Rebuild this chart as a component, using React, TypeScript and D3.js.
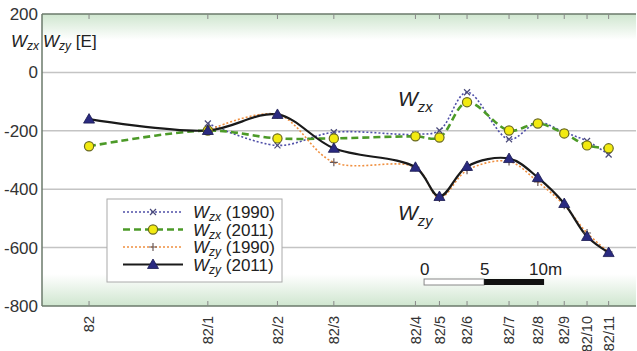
import React from 'react';
import * as d3 from 'd3';

// station labels along the profile and their distance in metres
const categories = ['82', '82/1', '82/2', '82/3', '82/4', '82/5', '82/6', '82/7', '82/8', '82/9', '82/10', '82/11'];
const distances = [0, 9.9, 15.7, 20.4, 27.2, 29.2, 31.5, 35, 37.4, 39.6, 41.5, 43.3];

const wzx1990 = [null, -175, -250, -205, -212, -199, -68, -229, -172, -205, -235, -281];
const wzx2011 = [-253, -199, -226, -226, -219, -223, -102, -199, -175, -209, -250, -260];
const wzy1990 = [null, -199, -144, -308, -325, -430, -335, -305, -375, -455, -550, -615];
const wzy2011 = [-160, -199, -144, -260, -325, -425, -322, -295, -360, -449, -562, -617];

const yTicks = [200, 0, -200, -400, -600, -800];
const gridTicks = [0, -200, -400, -600];
const scaleBarTicks = [0, 5, 10];

const W = 637, H = 351;
const left = 42, right = 636, top = 14, bottom = 306;
const font = '"Liberation Sans", Arial, sans-serif';

const x = d3.scaleLinear().domain([-3.92, 45.58]).range([left, right]);
const y = d3.scaleLinear().domain([-800, 200]).range([bottom, top]);

type Pt = { d: number; v: number };
const pts = (vals: (number | null)[]): Pt[] =>
  vals.map((v, i) => (v === null ? null : { d: distances[i], v })).filter((p): p is Pt => p !== null);

const line = d3.line<Pt>().x(p => x(p.d)).y(p => y(p.v)).curve(d3.curveCatmullRom.alpha(0.5));

const Cross = ({ cx, cy }: { cx: number; cy: number }) => (
  <path d={`M${cx - 3},${cy - 3}L${cx + 3},${cy + 3}M${cx - 3},${cy + 3}L${cx + 3},${cy - 3}`} stroke="#4a4a7a" strokeWidth={1.2} />
);
const Plus = ({ cx, cy }: { cx: number; cy: number }) => (
  <path d={`M${cx - 4},${cy}L${cx + 4},${cy}M${cx},${cy - 4}L${cx},${cy + 4}`} stroke="#6a5a5a" strokeWidth={1.2} />
);
const Circle = ({ cx, cy }: { cx: number; cy: number }) => (
  <circle cx={cx} cy={cy} r={4.6} fill="#f2ea10" stroke="#6a6a20" strokeWidth={1.2} />
);
const Tri = ({ cx, cy }: { cx: number; cy: number }) => (
  <path d={`M${cx},${cy - 5.5}L${cx + 5.5},${cy + 4}L${cx - 5.5},${cy + 4}Z`} fill="#2a2a80" stroke="#1a1a50" strokeWidth={0.8} />
);

const series = [
  { name: 'zx', year: '1990', data: wzx1990, color: '#5050a8', width: 1.6, dash: '2,2', Marker: Cross },
  { name: 'zx', year: '2011', data: wzx2011, color: '#4c9a28', width: 2.6, dash: '7,4', Marker: Circle },
  { name: 'zy', year: '1990', data: wzy1990, color: '#f09040', width: 1.6, dash: '2,2', Marker: Plus },
  { name: 'zy', year: '2011', data: wzy2011, color: '#1a1a1a', width: 2.2, dash: undefined, Marker: Tri },
];

const WLabel = ({ x0, y0, sub, size }: { x0: number; y0: number; sub: string; size: number }) => (
  <text x={x0} y={y0} fontFamily={font} fontSize={size} fontStyle="italic" fill="#222">
    W<tspan fontSize={size * 0.7} dy={size * 0.3}>{sub}</tspan>
  </text>
);

export default function App() {
  const legendX = 107, legendY = 199;
  return (
    <svg width={W} height={H} style={{ position: 'absolute', left: 0, top: 0 }}>
      <defs>
        <linearGradient id="gTop" x1="0" y1="0" x2="0" y2="1">
          <stop offset="0" stopColor="#cfe6cf" />
          <stop offset="1" stopColor="#ffffff" />
        </linearGradient>
        <linearGradient id="gBot" x1="0" y1="0" x2="0" y2="1">
          <stop offset="0" stopColor="#ffffff" />
          <stop offset="1" stopColor="#cfe6cf" />
        </linearGradient>
      </defs>
      <rect x={0} y={0} width={W} height={H} fill="#fff" />
      <rect x={left} y={top} width={right - left} height={26} fill="url(#gTop)" />
      <rect x={left} y={bottom - 32} width={right - left} height={32} fill="url(#gBot)" />

      {gridTicks.map(t => (
        <line key={t} x1={left} x2={right} y1={y(t)} y2={y(t)} stroke="#c4c4c4" strokeWidth={1.5} />
      ))}

      {/* frame */}
      <line x1={left} x2={right} y1={top} y2={top} stroke="#6b7a6b" strokeWidth={1.5} />
      <line x1={left} x2={right} y1={bottom} y2={bottom} stroke="#6b7a6b" strokeWidth={1.5} />
      <line x1={left} x2={left} y1={top} y2={bottom} stroke="#6b7a6b" strokeWidth={1.5} />

      {distances.map((d, i) => (
        <g key={categories[i]}>
          <line x1={x(d)} x2={x(d)} y1={bottom} y2={bottom - 5} stroke="#888" />
          <line x1={x(d)} x2={x(d)} y1={top} y2={top + 5} stroke="#888" />
          <text transform={`translate(${x(d)},${316}) rotate(-90)`} textAnchor="end" dy="0.35em"
            fontFamily={font} fontSize={14.5} fill="#333">{categories[i]}</text>
        </g>
      ))}

      {yTicks.map(t => (
        <text key={t} x={38} y={y(t)} dy="0.35em" textAnchor="end" fontFamily={font} fontSize={17} fill="#333">{t}</text>
      ))}

      <text x={11} y={47} fontFamily={font} fontSize={17} fill="#222">
        <tspan fontStyle="italic">W</tspan>
        <tspan fontStyle="italic" fontSize={12} dy={3}>zx</tspan>
        <tspan dy={-3} dx={4} fontStyle="italic">W</tspan>
        <tspan fontStyle="italic" fontSize={12} dy={3}>zy</tspan>
        <tspan dy={-3}> [E]</tspan>
      </text>

      {/* legend */}
      <rect x={legendX} y={legendY} width={175} height={83} fill="#fff" stroke="#aaa" strokeWidth={1} />
      {series.map((s, i) => {
        const ly = legendY + 13 + i * 17.5;
        const M = s.Marker;
        return (
          <g key={i}>
            <line x1={legendX + 16} x2={legendX + 76} y1={ly} y2={ly} stroke={s.color} strokeWidth={s.width} strokeDasharray={s.dash} />
            <M cx={legendX + 46} cy={ly} />
            <text x={legendX + 86} y={ly + 6} fontFamily={font} fontSize={17} fill="#222">
              <tspan fontStyle="italic">W</tspan>
              <tspan fontStyle="italic" fontSize={12} dy={3}>{s.name}</tspan>
              <tspan dy={-3}> ({s.year})</tspan>
            </text>
          </g>
        );
      })}

      {/* scale bar */}
      <rect x={x(27.92)} y={279} width={x(32.92) - x(27.92)} height={6} fill="#fff" stroke="#888" />
      <rect x={x(32.92)} y={279} width={x(37.92) - x(32.92)} height={6} fill="#111" />
      {scaleBarTicks.map(t => (
        <text key={t} x={x(27.92 + t) + (t === 10 ? -15 : -4)} y={275} fontFamily={font} fontSize={17} fill="#222">
          {t === 10 ? '10m' : t}
        </text>
      ))}

      {series.map((s, i) => (
        <path key={i} d={line(pts(s.data)) || ''} fill="none" stroke={s.color} strokeWidth={s.width} strokeDasharray={s.dash} />
      ))}
      {series.map((s, i) =>
        pts(s.data).map((p, j) => <s.Marker key={`${i}-${j}`} cx={x(p.d)} cy={y(p.v)} />)
      )}

      <WLabel x0={398} y0={106} sub="zx" size={21} />
      <WLabel x0={398} y0={220} sub="zy" size={21} />
    </svg>
  );
}
